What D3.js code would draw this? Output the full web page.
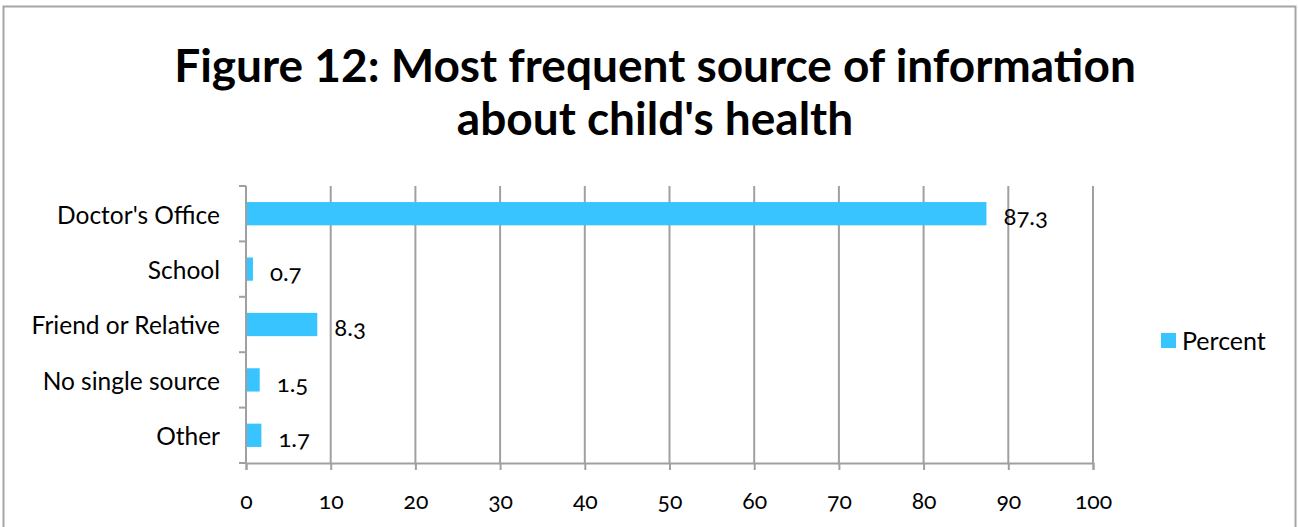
<!DOCTYPE html>
<html>
<head>
<meta charset="utf-8">
<script src="https://cdnjs.cloudflare.com/ajax/libs/d3/7.8.5/d3.min.js"></script>
<style>
  body { margin: 0; background: #fff; }
  svg text { font-family: Lato, "Open Sans", sans-serif; fill: #000; }
  .num { font-variant-numeric: oldstyle-nums; }
</style>
</head>
<body>
<script>
var svg_width  = 1298;
var svg_height = 527;

// chart data
var categories = ["Doctor's Office", "School", "Friend or Relative", "No single source", "Other"];
var percents   = [87.3, 0.7, 8.3, 1.5, 1.7];
var xTicks     = [0, 10, 20, 30, 40, 50, 60, 70, 80, 90, 100];
var seriesName = "Percent";
var titleLines = ["Figure 12: Most frequent source of information", "about child's health"];

var BAR_COLOR  = "#38c4ff";
var GRID_COLOR = "#a0a0a0";

var svg = d3.select('body').append('svg')
            .attr('width', svg_width)
            .attr('height', svg_height);

// outer frame
svg.append("rect")
   .attr("x", 3.5).attr("y", 6.5)
   .attr("width", 1292).attr("height", 540)
   .attr("fill", "none")
   .attr("stroke", "#a6a6a6")
   .attr("stroke-width", 2);

// title
svg.append("g").selectAll("text")
   .data(titleLines)
   .enter().append("text")
   .attr("x", 655)
   .attr("y", (d, i) => 82 + i * 53)
   .attr("text-anchor", "middle")
   .attr("font-size", 46)
   .attr("font-weight", "bold")
   .text(d => d);

var plotLeft = 246, plotRight = 1093, plotTop = 186, plotBottom = 463;

var x = d3.scaleLinear().domain([0, 100]).range([plotLeft, plotRight]);
var y = d3.scaleBand().domain(categories).range([plotTop, plotBottom]).paddingInner(0.58).paddingOuter(0.29);
var yEdge = d3.scaleLinear().domain([0, categories.length]).range([plotTop, plotBottom]);

// vertical gridlines
svg.append("g").selectAll("line")
   .data(xTicks.slice(1))
   .enter().append("line")
   .attr("x1", d => x(d)).attr("x2", d => x(d))
   .attr("y1", plotTop).attr("y2", plotBottom)
   .attr("stroke", GRID_COLOR).attr("stroke-width", 2);

// x axis
var xAxis = svg.append("g")
   .attr("transform", "translate(0," + plotBottom + ")")
   .call(d3.axisBottom(x).tickValues(xTicks).tickSize(7).tickPadding(23));
xAxis.select(".domain").attr("stroke", GRID_COLOR).attr("stroke-width", 2);
xAxis.selectAll(".tick line").attr("stroke", GRID_COLOR).attr("stroke-width", 2);
xAxis.selectAll(".tick text").attr("class", "num").attr("font-size", 23)
     .attr("font-family", "Lato, sans-serif");

// y axis line and category ticks
var yAxis = svg.append("g");
yAxis.append("line")
   .attr("x1", plotLeft).attr("x2", plotLeft)
   .attr("y1", plotTop).attr("y2", plotBottom)
   .attr("stroke", GRID_COLOR).attr("stroke-width", 2);
yAxis.selectAll(".ytick")
   .data(d3.range(categories.length + 1))
   .enter().append("line")
   .attr("x1", plotLeft - 7).attr("x2", plotLeft)
   .attr("y1", d => yEdge(d)).attr("y2", d => yEdge(d))
   .attr("stroke", GRID_COLOR).attr("stroke-width", 2);
yAxis.selectAll(".ylabel")
   .data(categories)
   .enter().append("text")
   .attr("x", plotLeft - 26)
   .attr("y", d => y(d) + y.bandwidth() / 2 + 1)
   .attr("dy", "0.36em")
   .attr("text-anchor", "end")
   .attr("font-size", 24.5)
   .text(d => d);

// bars
svg.append("g").selectAll("rect")
   .data(percents)
   .enter().append("rect")
   .attr("x", x(0) + 1)
   .attr("y", (d, i) => y(categories[i]))
   .attr("width", d => x(d) - x(0))
   .attr("height", y.bandwidth())
   .attr("fill", BAR_COLOR);

// value labels
svg.append("g").selectAll("text")
   .data(percents)
   .enter().append("text")
   .attr("class", "num")
   .attr("x", d => x(d) + 18)
   .attr("y", (d, i) => y(categories[i]) + y.bandwidth() / 2 + 3)
   .attr("dy", "0.36em")
   .attr("font-size", 24)
   .text(d => d);

// legend
var legend = svg.append("g").attr("transform", "translate(1161,333)");
legend.append("rect")
   .attr("width", 15).attr("height", 15)
   .attr("fill", BAR_COLOR);
legend.append("text")
   .attr("x", 21).attr("y", 8)
   .attr("dy", "0.36em")
   .attr("font-size", 25)
   .text(seriesName);
</script>
</body>
</html>
